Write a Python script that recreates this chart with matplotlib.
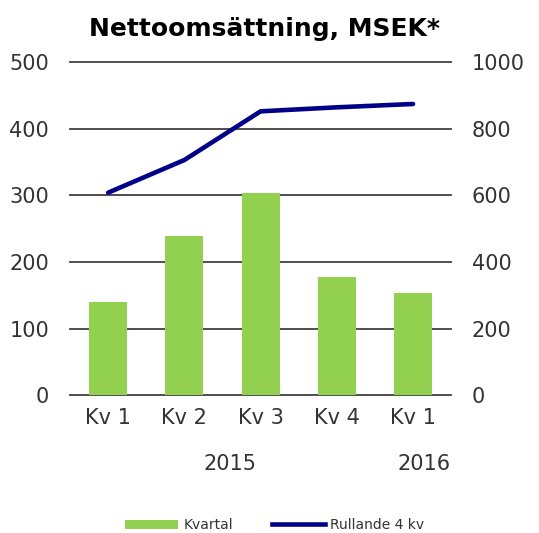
import matplotlib

matplotlib.use("Agg")

import matplotlib.pyplot as plt
import matplotlib.transforms as mtransforms
import numpy as np
from matplotlib.lines import Line2D
from matplotlib.patches import Patch

categories = ["Kv 1", "Kv 2", "Kv 3", "Kv 4", "Kv 1"]
years = ["2015", "2016"]
year_pos = [1.6, 4.15]
kvartal = [140, 239, 303, 177, 154]
rullande = [608, 706, 852, 864, 874]

GREEN = "#92D050"
NAVY = "#000088"
TEXT = "#333333"

plt.rcParams["font.family"] = ["DejaVu Sans"]

fig = plt.figure(figsize=(5.39, 5.33), dpi=100)
ax = fig.add_axes([0.130, 0.2583, 0.707, 0.6254])
ax2 = ax.twinx()

x = np.arange(len(categories))
ax.bar(x, kvartal, width=0.5, color=GREEN, zorder=3)
ax2.plot(x, rullande, color=NAVY, linewidth=3.3, solid_capstyle="round", zorder=4)

ax.set_xlim(-0.5, len(categories) - 0.5)
ax.set_ylim(0, 500)
ax2.set_ylim(0, 1000)
ax.set_yticks(np.arange(0, 501, 100))
ax2.set_yticks(np.arange(0, 1001, 200))
ax.yaxis.grid(True, color="#404040", linewidth=1.3, zorder=0)
ax.set_axisbelow(True)
ax2.patch.set_visible(False)
for gl in ax.get_ygridlines():
    gl.set_clip_on(False)

for a in (ax, ax2):
    for s in a.spines.values():
        s.set_visible(False)
    a.tick_params(length=0, labelsize=15, labelcolor=TEXT)

ax.tick_params(axis="y", pad=15)
ax2.tick_params(axis="y", pad=15)
ax.set_xticks(x)
ax.set_xticklabels(categories)
ax.tick_params(axis="x", pad=9)

trans = mtransforms.blended_transform_factory(ax.transData, ax.transAxes)
for pos, yr in zip(year_pos, years):
    ax.text(pos, -0.205, yr, transform=trans, ha="center", va="center",
            fontsize=15, color=TEXT)

fig.text(0.49, 0.945, "Nettoomsättning, MSEK*", ha="center", va="center",
         fontsize=18, fontweight="bold", color="black")

handles = [Patch(facecolor=GREEN, edgecolor="none"),
           Line2D([0], [0], color=NAVY, linewidth=3.3)]
fig.legend(handles, ["Kvartal", "Rullande 4 kv"], loc="center",
           bbox_to_anchor=(0.51, 0.015), ncol=2, frameon=False,
           fontsize=10, handlelength=3.8, handleheight=0.6,
           columnspacing=2.8, handletextpad=0.4, labelcolor=TEXT)

fig.savefig("out.png", dpi=100)
